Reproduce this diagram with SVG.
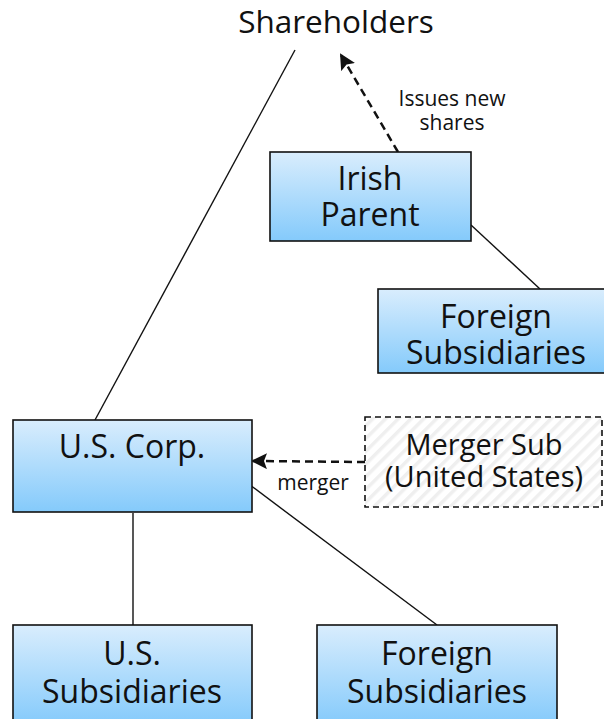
<svg xmlns="http://www.w3.org/2000/svg" width="604" height="719" viewBox="0 0 604 719">
<style>
text{font-family:"Open Sans","DejaVu Sans",sans-serif;fill:#111;text-anchor:middle}
.big{font-size:32px}
.mid{font-size:29px}
.sm{font-size:21px}
.box{fill:url(#g);stroke:#111;stroke-width:1.6}
.ln{stroke:#111;stroke-width:1.4;fill:none}
.dash{stroke:#111;stroke-width:2.5;fill:none;stroke-dasharray:8 5}
</style>
<defs>
<linearGradient id="g" x1="0" y1="0" x2="0" y2="1">
<stop offset="0" stop-color="#d9edfd"/>
<stop offset="1" stop-color="#84cafb"/>
</linearGradient>
<pattern id="h" patternUnits="userSpaceOnUse" width="9" height="9" patternTransform="rotate(45)">
<rect width="9" height="9" fill="#fff"/>
<rect width="3.5" height="9" fill="#efefef"/>
</pattern>
<marker id="a2" markerWidth="16" markerHeight="16" refX="14" refY="8" orient="auto" markerUnits="userSpaceOnUse" viewBox="0 0 16 16">
<path d="M0,0 L16,8 L0,16 L3,8 z" fill="#111"/>
</marker>
</defs>
<g id="connectors">
<line class="ln" x1="295" y1="50" x2="95" y2="420"/>
<line class="ln" x1="471" y1="225" x2="540" y2="289"/>
<line class="ln" x1="133" y1="513" x2="133" y2="625"/>
<line class="ln" x1="250" y1="485" x2="437" y2="625"/>
<line class="dash" x1="398" y1="152" x2="341" y2="55" marker-end="url(#a2)"/>
<line class="dash" x1="365" y1="462" x2="253" y2="461" marker-end="url(#a2)"/>
<text class="sm" x="452" y="106">Issues new</text>
<text class="sm" x="452" y="130">shares</text>
<text class="sm" x="313" y="490">merger</text>
</g>
<g id="shareholders">
<text x="336" y="33" style="font-size:31.5px">Shareholders</text>
</g>
<g id="irish-parent">
<rect class="box" x="270" y="152" width="201" height="89"/>
<text class="big" x="370" y="190">Irish</text>
<text class="big" x="370" y="226">Parent</text>
</g>
<g id="foreign-subs-top">
<rect class="box" x="378" y="289" width="230" height="84"/>
<text class="big" x="496" y="328">Foreign</text>
<text class="big" x="496" y="364">Subsidiaries</text>
</g>
<g id="us-corp">
<rect class="box" x="13" y="420" width="239" height="92"/>
<text class="big" x="132" y="458">U.S. Corp.</text>
</g>
<g id="merger-sub">
<rect x="365" y="417" width="237" height="90" fill="url(#h)" stroke="#111" stroke-width="1.6" stroke-dasharray="6 4"/>
<text class="mid" x="484" y="455">Merger Sub</text>
<text class="mid" x="484" y="487">(United States)</text>
</g>
<g id="us-subs">
<rect class="box" x="13" y="625" width="239" height="100"/>
<text class="big" x="132" y="665">U.S.</text>
<text class="big" x="132" y="703">Subsidiaries</text>
</g>
<g id="foreign-subs-bottom">
<rect class="box" x="317" y="625" width="240" height="100"/>
<text class="big" x="437" y="665">Foreign</text>
<text class="big" x="437" y="703">Subsidiaries</text>
</g>
</svg>
